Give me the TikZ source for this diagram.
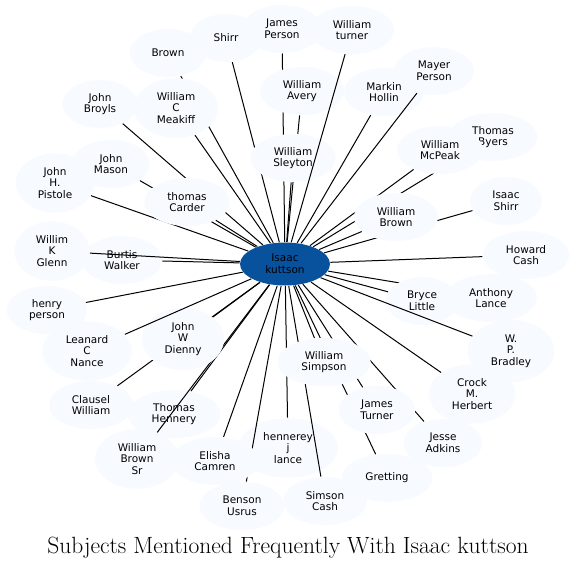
\documentclass[tikz,border=0pt]{standalone}
\usepackage{fontspec}
\usetikzlibrary{shapes.geometric}
\newfontfamily\dejavu{DejaVu Sans}
\definecolor{hubblue}{HTML}{08519C}
\definecolor{paleblue}{HTML}{F7FBFF}
\begin{document}
\begin{tikzpicture}[x=1pt, y=-1pt, line width=1pt,
  subj/.style = {ellipse, fill=paleblue, minimum width=72pt, minimum height=48pt, inner xsep=10.5pt, inner ysep=5.3pt, align=center, font=\dejavu\fontsize{10.5}{11.7}\selectfont},
  hub/.style = {subj, fill=hubblue, minimum width=90pt, minimum height=43pt, inner sep=0pt},
  link/.style = {draw=black}]
\useasboundingbox (0,0) rectangle (577,568);
\node[hub] (isaac) at (285,264) {Isaac\\kuttson};
\node[subj] (brown) at (168,53) {Brown};
\draw[link] (isaac) -- (brown);
\node[subj] (meakiff) at (176,108) {William\\C\\Meakiff};
\draw[link] (isaac) -- (meakiff);
\node[subj] (shirr) at (226,38) {Shirr};
\draw[link] (isaac) -- (shirr);
\node[subj] (jperson) at (282,29) {James\\Person};
\draw[link] (isaac) -- (jperson);
\node[subj] (avery) at (302,91) {William\\Avery};
\draw[link] (isaac) -- (avery);
\node[subj] (sleyton) at (293,158) {William\\Sleyton};
\draw[link] (isaac) -- (sleyton);
\node[subj] (turner) at (352,30) {William\\turner};
\draw[link] (isaac) -- (turner);
\node[subj] (markin) at (384,92) {Markin\\Hollin};
\draw[link] (isaac) -- (markin);
\node[subj] (mayer) at (434,71) {Mayer\\Person};
\draw[link] (isaac) -- (mayer);
\node[subj] (byers) at (493,137) {Thomas\\Byers};
\draw[link] (isaac) -- (byers);
\node[subj] (mcpeak) at (440,150) {William\\McPeak};
\draw[link] (isaac) -- (mcpeak);
\node[subj] (ishirr) at (506,201) {Isaac\\Shirr};
\draw[link] (isaac) -- (ishirr);
\node[subj] (wbrown) at (396,217) {William\\Brown};
\draw[link] (isaac) -- (wbrown);
\node[subj] (hcash) at (526,255) {Howard\\Cash};
\draw[link] (isaac) -- (hcash);
\node[subj] (lance) at (491,298) {Anthony\\Lance};
\draw[link] (isaac) -- (lance);
\node[subj] (bryce) at (422,301) {Bryce\\Little};
\draw[link] (isaac) -- (bryce);
\node[subj] (bradley) at (511,351) {W.\\P.\\Bradley};
\draw[link] (isaac) -- (bradley);
\node[subj] (crock) at (472,394) {Crock\\M.\\Herbert};
\draw[link] (isaac) -- (crock);
\node[subj] (adkins) at (443,443) {Jesse\\Adkins};
\draw[link] (isaac) -- (adkins);
\node[subj] (gretting) at (387,478) {Gretting};
\draw[link] (isaac) -- (gretting);
\node[subj] (jturner) at (377,410) {James\\Turner};
\draw[link] (isaac) -- (jturner);
\node[subj] (hennerey) at (288,448) {hennerey\\j\\lance};
\draw[link] (isaac) -- (hennerey);
\node[subj] (scash) at (325,501) {Simson\\Cash};
\draw[link] (isaac) -- (scash);
\node[subj] (simpson) at (324,362) {William\\Simpson};
\draw[link] (isaac) -- (simpson);
\node[subj] (benson) at (242,506) {Benson\\Usrus};
\draw[link] (isaac) -- (benson);
\node[subj] (elisha) at (215,461) {Elisha\\Camren};
\draw[link] (isaac) -- (elisha);
\node[subj] (thennery) at (174,414) {Thomas\\Hennery};
\draw[link] (isaac) -- (thennery);
\node[subj] (brownsr) at (137,459) {William\\Brown\\Sr};
\draw[link] (isaac) -- (brownsr);
\node[subj] (clausel) at (91,405) {Clausel\\William};
\draw[link] (isaac) -- (clausel);
\node[subj] (dienny) at (183,339) {John\\W\\Dienny};
\draw[link] (isaac) -- (dienny);
\node[subj] (nance) at (87,351) {Leanard\\C\\Nance};
\draw[link] (isaac) -- (nance);
\node[subj] (hperson) at (47,310) {henry\\person};
\draw[link] (isaac) -- (hperson);
\node[subj] (burtis) at (122,260) {Burtis\\Walker};
\draw[link] (isaac) -- (burtis);
\node[subj] (glenn) at (52,251) {Willim\\K\\Glenn};
\draw[link] (isaac) -- (glenn);
\node[subj] (pistole) at (55,183) {John\\H.\\Pistole};
\draw[link] (isaac) -- (pistole);
\node[subj] (mason) at (111,164) {John\\Mason};
\draw[link] (isaac) -- (mason);
\node[subj] (broyls) at (100,104) {John\\Broyls};
\draw[link] (isaac) -- (broyls);
\node[subj] (carder) at (187,202) {thomas\\Carder};
\draw[link] (isaac) -- (carder);
\node[anchor=base] (title) at (288,553) {\fontsize{23.5}{26}\selectfont Subjects Mentioned Frequently With Isaac kuttson};
\end{tikzpicture}
\end{document}
